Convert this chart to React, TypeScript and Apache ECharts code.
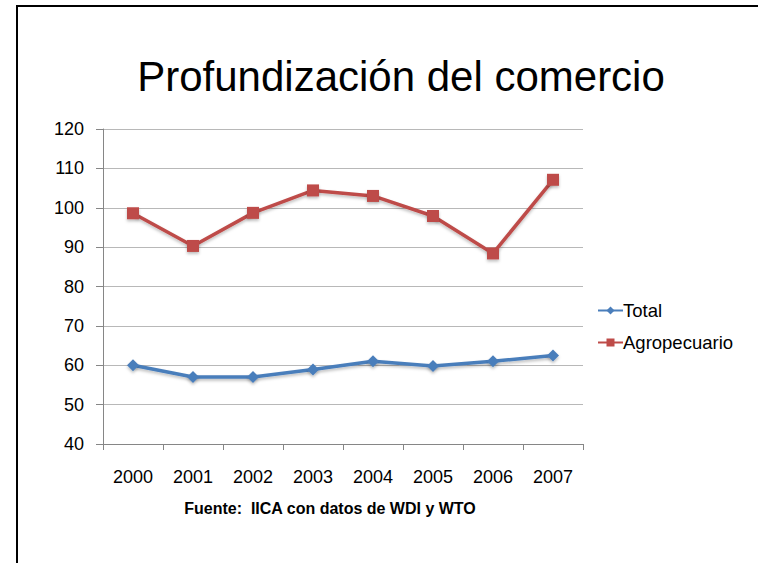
import React, { useEffect, useRef } from "react";
import * as echarts from "echarts";

const years = ["2000", "2001", "2002", "2003", "2004", "2005", "2006", "2007"];
const total = [60.0, 57.0, 57.0, 58.9, 61.0, 59.8, 61.0, 62.5];
const agro = [98.6, 90.3, 98.7, 104.4, 103.0, 97.9, 88.4, 107.1];
const yTicks = { min: 40, max: 120, interval: 10 };

export default function App() {
  const ref = useRef<HTMLDivElement>(null);
  useEffect(() => {
    if (!ref.current) return;
    const chart = echarts.init(ref.current, null, { renderer: "svg" });
    const font = "Liberation Sans";
    const shadow = { shadowColor: "rgba(0,0,0,0.25)", shadowBlur: 3, shadowOffsetY: 2 };
    chart.setOption({
      animation: false,
      backgroundColor: "#ffffff",
      title: {
        text: "Profundización del comercio",
        left: 396,
        textAlign: "center",
        top: 50,
        textStyle: { fontFamily: font, fontSize: 42, fontWeight: "normal", color: "#000" },
      },
      graphic: [
        {
          type: "line",
          shape: { x1: 16, y1: 6, x2: 758, y2: 6 },
          style: { stroke: "#000", lineWidth: 2 },
          silent: true,
        },
        {
          type: "line",
          shape: { x1: 17, y1: 5, x2: 17, y2: 563 },
          style: { stroke: "#000", lineWidth: 2 },
          silent: true,
        },
        {
          type: "text",
          x: 330,
          y: 508,
          style: {
            text: "Fuente:  IICA con datos de WDI y WTO",
            fontFamily: font,
            fontSize: 16,
            fontWeight: "bold",
            fill: "#000",
            textAlign: "center",
            textVerticalAlign: "middle",
          },
        },
      ],
      legend: {
        orient: "vertical",
        left: 592,
        top: 296,
        itemWidth: 25,
        itemHeight: 10,
        itemGap: 13,
        textStyle: { fontFamily: font, fontSize: 18.5, color: "#000", padding: [0, 0, 0, -5] },
        data: ["Total", "Agropecuario"],
      },
      grid: { left: 103, top: 129, width: 480, height: 315, containLabel: false },
      xAxis: {
        type: "category",
        data: years,
        boundaryGap: true,
        axisLine: { lineStyle: { color: "#868686", width: 1 } },
        axisTick: { show: true, length: 6, lineStyle: { color: "#868686" } },
        axisLabel: { fontFamily: font, fontSize: 18, color: "#000", margin: 24 },
      },
      yAxis: {
        type: "value",
        min: yTicks.min,
        max: yTicks.max,
        interval: yTicks.interval,
        axisLine: { show: true, lineStyle: { color: "#868686", width: 1 } },
        axisTick: { show: true, length: 7, lineStyle: { color: "#868686" } },
        splitLine: { lineStyle: { color: "#b8b8b8", width: 1 } },
        axisLabel: { fontFamily: font, fontSize: 18, color: "#000", margin: 19 },
      },
      series: [
        {
          name: "Total",
          type: "line",
          data: total,
          symbol: "diamond",
          symbolSize: 12,
          lineStyle: { color: "#4A7EBB", width: 3.5, ...shadow },
          itemStyle: { color: "#4A7EBB", ...shadow },
        },
        {
          name: "Agropecuario",
          type: "line",
          data: agro,
          symbol: "rect",
          symbolSize: 12,
          lineStyle: { color: "#BE4B48", width: 3.5, ...shadow },
          itemStyle: { color: "#BE4B48", ...shadow },
        },
      ],
    });
    return () => chart.dispose();
  }, []);
  return (
    <div
      ref={ref}
      style={{ position: "absolute", left: 0, top: 0, width: 758, height: 563 }}
    />
  );
}
